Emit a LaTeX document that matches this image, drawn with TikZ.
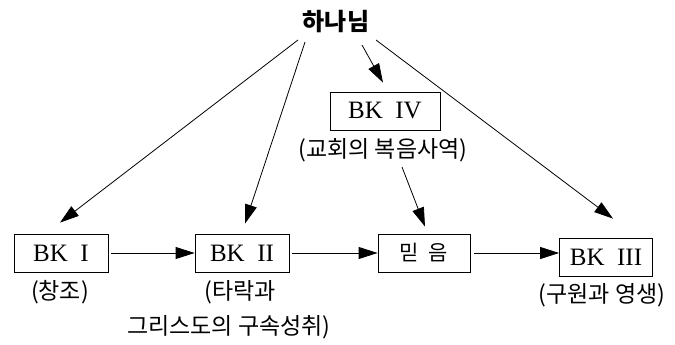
\documentclass[tikz,border=0pt]{standalone}
\usepackage{fontspec}
\setmainfont{Liberation Serif}
\newfontfamily\kr{Noto Sans CJK KR}
\usetikzlibrary{arrows.meta}
\tikzset{
  bkbox/.style={draw, line width=0.8pt, minimum height=38pt, inner sep=0pt, font=\fontsize{25}{25}\selectfont},
  lbl/.style={font=\kr\fontsize{23}{24}\selectfont, inner sep=0pt},
  arr/.style={-{Triangle[length=19pt,width=12pt]}, line width=0.8pt}
}
\begin{document}
\begin{tikzpicture}[x=1pt,y=-1pt]
\useasboundingbox (0,0) rectangle (675,345);
\node[font=\kr\bfseries\fontsize{24}{24}\selectfont, inner sep=0pt] (god) at (336,22) {하나님};
\node[bkbox, minimum width=94pt] (bk1) at (61,253) {BK\ \ I};
\node[bkbox, minimum width=94pt] (bk2) at (242,253) {BK\ \ II};
\node[bkbox, minimum width=92pt, font=\kr\fontsize{21}{22}\selectfont] (mid) at (424,253) {믿\ \ 음};
\node[bkbox, minimum width=93pt] (bk3) at (606,257) {BK\ \ III};
\node[bkbox, minimum width=110pt] (bk4) at (385,111) {BK\ \ IV};
\node[lbl] (l4) at (383,150) {(교회의 복음사역)};
\node[lbl] (l1) at (60,292) {(창조)};
\node[lbl] (l2) at (240,292) {(타락과};
\node[lbl] (l2b) at (229,327) {그리스도의 구속성취)};
\node[lbl] (l3) at (602,295) {(구원과 영생)};
\draw[arr] ([xshift=-38pt,yshift=-18pt]god.center) -- ([xshift=-1pt,yshift=11pt]bk1.north);
\draw[arr] ([xshift=-31pt,yshift=-20pt]god.center) -- ([xshift=3pt,yshift=10pt]bk2.north);
\draw[arr] ([xshift=26pt,yshift=-23pt]god.center) -- ([xshift=-2pt,yshift=9pt]bk4.north);
\draw[arr] ([xshift=40pt,yshift=-18pt]god.center) -- ([xshift=7pt,yshift=19pt]bk3.north);
\draw[arr] ([xshift=19pt,yshift=-17pt]l4.center) -- ([xshift=1pt,yshift=7pt]mid.north);
\draw[arr, shorten <=3pt] (bk1.east) -- (bk2.west);
\draw[arr, shorten <=3pt] (bk2.east) -- (mid.west);
\draw[arr, shorten <=4pt] (mid.east) -- (mid.east -| bk3.west);
\end{tikzpicture}
\end{document}
